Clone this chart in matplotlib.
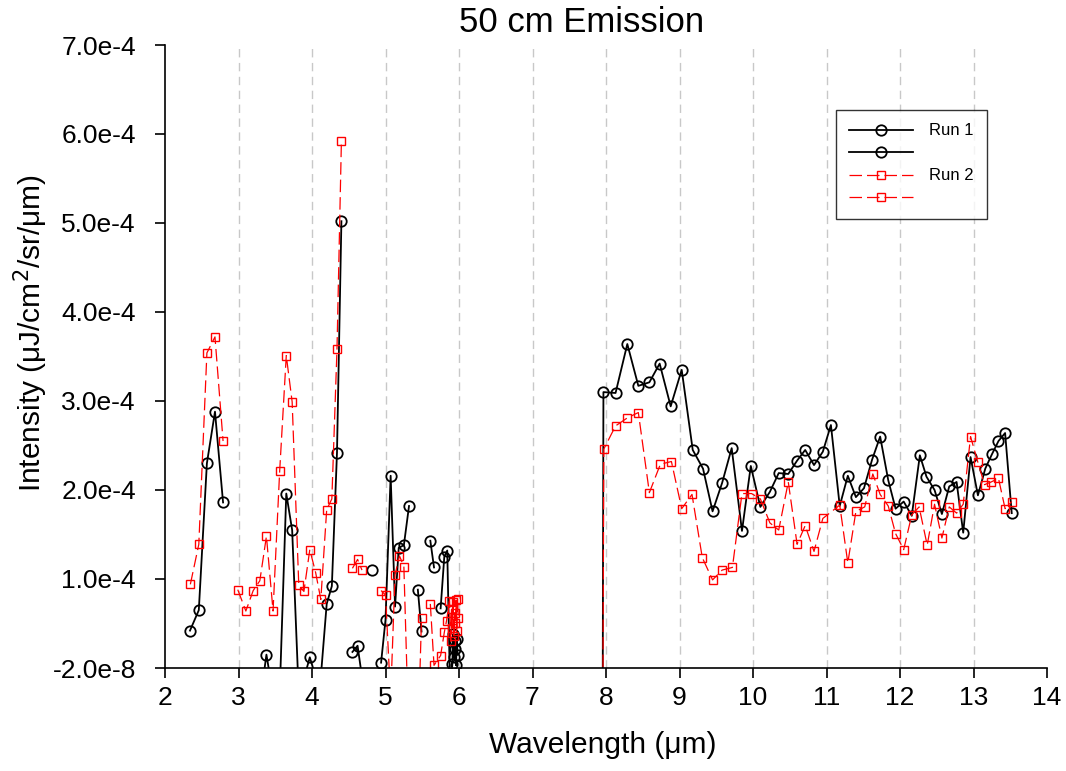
import numpy as np
import matplotlib
matplotlib.use("Agg")
import matplotlib.pyplot as plt

nan = np.nan

# ---------------- data (intensity in units of 1e-4 uJ/cm^2/sr/um) ----------------
run1_x_a = [2.34, 2.46, 2.57, 2.68, 2.79, 2.89, 2.99, 3.10, 3.20, 3.29, 3.38, 3.47, 3.56,
            3.65, 3.73, 3.82, 3.89, 3.97, 4.05, 4.12, 4.20, 4.27, 4.34, 4.40, 4.48, 4.55,
            4.62, 4.68, 4.75, 4.81, 4.88, 4.94, 5.00, 5.07, 5.13, 5.18, 5.25, 5.32, 5.38,
            5.44, 5.49, 5.55, 5.61, 5.66, 5.70, 5.75, 5.80, 5.84, 5.88, 5.91, 5.92, 5.93,
            5.94, 5.95, 5.96, 5.97, 5.98]
run1_y_a = [0.42, 0.65, 2.30, 2.88, 1.86, nan, -0.6, -0.5, -0.6, -0.4, 0.15, -0.3, -0.3,
            1.96, 1.55, -0.3, -0.12, 0.12, -0.1, -0.1, 0.72, 0.92, 2.42, 5.02, nan, 0.18,
            0.25, -0.1, nan, 1.10, nan, 0.06, 0.54, 2.16, 0.69, 1.35, 1.38, 1.82, nan,
            0.88, 0.41, nan, 1.43, 1.13, nan, 0.67, 1.25, 1.32, -0.3, 0.05, 0.38, 0.12,
            0.30, 0.21, 0.03, 0.33, 0.15]

run1_x_b = [7.95, 7.965, 8.13, 8.29, 8.44, 8.59, 8.73, 8.88, 9.03, 9.18, 9.32, 9.45, 9.58,
            9.71, 9.85, 9.97, 10.10, 10.23, 10.35, 10.48, 10.60, 10.71, 10.83, 10.95, 11.06,
            11.18, 11.29, 11.40, 11.51, 11.62, 11.73, 11.84, 11.94, 12.05, 12.16, 12.27,
            12.36, 12.47, 12.57, 12.67, 12.77, 12.86, 12.96, 13.06, 13.16, 13.25, 13.34,
            13.43, 13.52]
run1_y_b = [-2.0, 3.10, 3.09, 3.64, 3.17, 3.21, 3.42, 2.94, 3.35, 2.45, 2.24, 1.76, 2.08,
            2.47, 1.54, 2.27, 1.81, 1.98, 2.19, 2.18, 2.33, 2.45, 2.28, 2.43, 2.73,
            1.82, 2.16, 1.92, 2.02, 2.34, 2.60, 2.11, 1.79, 1.87, 1.71, 2.39,
            2.15, 2.00, 1.73, 2.04, 2.09, 1.52, 2.37, 1.94, 2.24, 2.40, 2.55,
            2.64, 1.74]

run2_x_a = [2.345, 2.46, 2.57, 2.68, 2.79, 2.89, 2.99, 3.10, 3.20, 3.29, 3.38, 3.47, 3.56,
            3.65, 3.73, 3.82, 3.89, 3.97, 4.05, 4.12, 4.20, 4.27, 4.34, 4.40, 4.48, 4.55,
            4.62, 4.68, 4.81, 4.94, 5.00, 5.07, 5.13, 5.19, 5.25, 5.32, 5.38, 5.44, 5.49,
            5.55, 5.61, 5.66, 5.75, 5.80, 5.83, 5.87, 5.89, 5.90, 5.91, 5.92, 5.93, 5.94,
            5.95, 5.96, 5.97, 5.98, 5.99]
run2_y_a = [0.94, 1.39, 3.54, 3.72, 2.55, nan, 0.88, 0.64, 0.87, 0.98, 1.48, 0.64, 2.21,
            3.51, 2.99, 0.93, 0.86, 1.33, 1.07, 0.77, 1.78, 1.90, 3.58, 5.92, nan, 1.12,
            1.22, 1.10, nan, 0.87, 0.82, -0.33, 1.05, 1.26, 1.14, -0.86, -0.9, -0.84, 0.56,
            nan, 0.72, 0.03, 0.14, 0.40, 0.53, 0.75, 0.30, 0.66, 0.45, 0.74, 0.36, 0.62,
            0.50, 0.76, 0.42, 0.78, 0.56]

run2_x_b = [7.95, 7.97, 8.13, 8.29, 8.44, 8.59, 8.74, 8.89, 9.03, 9.17, 9.31, 9.45, 9.58,
            9.72, 9.85, 9.98, 10.10, 10.23, 10.35, 10.48, 10.60, 10.71, 10.83, 10.95,
            11.18, 11.29, 11.40, 11.52, 11.63, 11.73, 11.84, 11.94, 12.05, 12.16, 12.26,
            12.37, 12.47, 12.57, 12.67, 12.77, 12.86, 12.96, 13.06, 13.15, 13.24, 13.34,
            13.43, 13.52]
run2_y_b = [-2.0, 2.46, 2.72, 2.81, 2.87, 1.97, 2.29, 2.32, 1.79, 1.95, 1.24, 0.99, 1.10,
            1.13, 1.96, 1.96, 1.90, 1.63, 1.55, 2.09, 1.39, 1.60, 1.31, 1.68,
            1.83, 1.18, 1.76, 1.81, 2.18, 1.95, 1.82, 1.51, 1.33, 1.72, 1.81,
            1.38, 1.84, 1.46, 1.81, 1.74, 1.84, 2.60, 2.31, 2.06, 2.09, 2.13,
            1.79, 1.87]

x_ticks = [2, 3, 4, 5, 6, 7, 8, 9, 10, 11, 12, 13, 14]
y_ticks = [-2e-8, 1e-4, 2e-4, 3e-4, 4e-4, 5e-4, 6e-4, 7e-4]
y_tick_labels = ["-2.0e-8", "1.0e-4", "2.0e-4", "3.0e-4", "4.0e-4", "5.0e-4", "6.0e-4", "7.0e-4"]

scale = 1e-4

# ---------------- figure ----------------
plt.rcParams['font.family'] = ['Liberation Sans', 'DejaVu Sans']
fig = plt.figure(figsize=(10.66, 7.71), dpi=100)
ax = fig.add_axes([165/1066, 1-668/771, (1047-165)/1066, (668-45)/771])

black_kw = dict(color='black', lw=1.3, marker='o', ms=7.5, mfc='none', mec='black', mew=1.3)
red_kw = dict(color='#ff0000', lw=0.9, marker='s', ms=6, mfc='none', mec='#ff0000', mew=1.0,
              dashes=(10, 4))

l1, = ax.plot(run1_x_a, np.array(run1_y_a)*scale, label='Run 1', **black_kw)
l2, = ax.plot(run1_x_b, np.array(run1_y_b)*scale, label=' ', **black_kw)
l3, = ax.plot(run2_x_a, np.array(run2_y_a)*scale, label='Run 2', **red_kw)
l4, = ax.plot(run2_x_b, np.array(run2_y_b)*scale, label='  ', **red_kw)

ax.set_xlim(2, 14)
ax.set_ylim(-2e-8, 7e-4)
ax.set_xticks(x_ticks)
ax.set_yticks(y_ticks)
ax.set_yticklabels(y_tick_labels)

for xv in x_ticks[1:-1]:
    ax.axvline(xv, color='#c8c8c8', lw=1.0, dashes=(6, 4), zorder=0)

for s in ['top', 'right']:
    ax.spines[s].set_visible(False)
for s in ['left', 'bottom']:
    ax.spines[s].set_linewidth(1.2)
ax.tick_params(axis='both', direction='out', length=7, width=1.2, labelsize=19)
ax.tick_params(axis='y', pad=14)
ax.tick_params(axis='x', pad=6)

fig.text(582/1066, 1-22/771, '50 cm Emission', fontsize=25, ha='center', va='center')
fig.text(603/1066, 1-745/771, 'Wavelength (μm)', fontsize=21.5, ha='center', va='center')
fig.text(31/1066, 1-333/771, 'Intensity (μJ/cm$^2$/sr/μm)', fontsize=21.5, ha='center',
         va='center', rotation=90)

leg = ax.legend(handles=[l1, l2, l3, l4], loc='upper left',
                bbox_to_anchor=(836/1066, 1-110/771), bbox_transform=fig.transFigure,
                fontsize=12, handlelength=3.8, frameon=True, fancybox=False,
                borderpad=0.8, labelspacing=0.45, handletextpad=1.0, borderaxespad=0)
leg.get_frame().set_edgecolor('black')
leg.get_frame().set_linewidth(1.0)

fig.savefig('out.png', dpi=100)
